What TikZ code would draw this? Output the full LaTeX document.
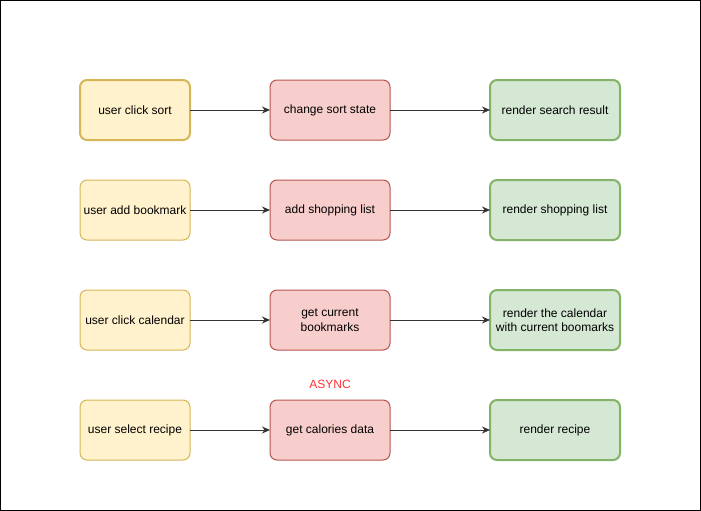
\documentclass[tikz,border=0pt]{standalone}
\usepackage{fontspec}
\setmainfont{Liberation Sans}
\definecolor{evtfill}{HTML}{FFF2CC}
\definecolor{evtline}{HTML}{D6B656}
\definecolor{actfill}{HTML}{F8CECC}
\definecolor{actline}{HTML}{B85450}
\definecolor{outfill}{HTML}{D5E8D4}
\definecolor{outline}{HTML}{82B366}
\definecolor{asyncred}{HTML}{FF3333}
\usetikzlibrary{arrows.meta, positioning}
\tikzset{
  box/.style={rounded corners=7pt, minimum height=60pt, align=center, inner sep=2pt,
    outer sep=0pt, font=\fontsize{12}{14.5}\selectfont, line width=1pt},
  event/.style={box, draw=evtline, fill=evtfill, minimum width=110pt},
  action/.style={box, draw=actline, fill=actfill, minimum width=120pt},
  result/.style={box, draw=outline, fill=outfill, minimum width=130pt, line width=2pt},
  flow/.style={-{Stealth[length=8pt, width=7pt]}, line width=1pt, black!80},
}

\begin{document}
\begin{tikzpicture}[x=1pt, y=-1pt]
  \useasboundingbox (0,0) rectangle (701,511);
  \draw[line width=1pt] (0.5,0.5) rectangle (700.5,510.5);

  % row 1
  \node[event, line width=2pt] (clicksort) at (135,110) {user click sort};
  \node[action, right=80pt of clicksort] (sortstate) {change sort state};
  \node[result, right=100pt of sortstate] (searchres) {render search result};

  % row 2
  \node[event, below=40pt of clicksort] (addbookmark) {user add bookmark};
  \node[action, right=80pt of addbookmark] (addshop) {add shopping list};
  \node[result, right=100pt of addshop] (rendershop) {render shopping list};

  % row 3
  \node[event, below=50pt of addbookmark] (clickcal) {user click calendar};
  \node[action, right=80pt of clickcal] (getbookmarks) {get current\\bookmarks};
  \node[result, right=100pt of getbookmarks] (rendercal) {render the calendar\\with current boomarks};

  % row 4
  \node[event, below=50pt of clickcal] (selectrecipe) {user select recipe};
  \node[action, right=80pt of selectrecipe] (getcal) {get calories data};
  \node[result, right=100pt of getcal] (renderrecipe) {render recipe};
  \node[above=11pt of getcal, text=asyncred, font=\fontsize{12}{14}\selectfont, inner sep=0pt] (async) {ASYNC};

  \draw[flow] (clicksort) -- (sortstate);
  \draw[flow] (sortstate) -- (searchres);
  \draw[flow] (addbookmark) -- (addshop);
  \draw[flow] (addshop) -- (rendershop);
  \draw[flow] (clickcal) -- (getbookmarks);
  \draw[flow] (getbookmarks) -- (rendercal);
  \draw[flow] (selectrecipe) -- (getcal);
  \draw[flow] (getcal) -- (renderrecipe);
\end{tikzpicture}
\end{document}
